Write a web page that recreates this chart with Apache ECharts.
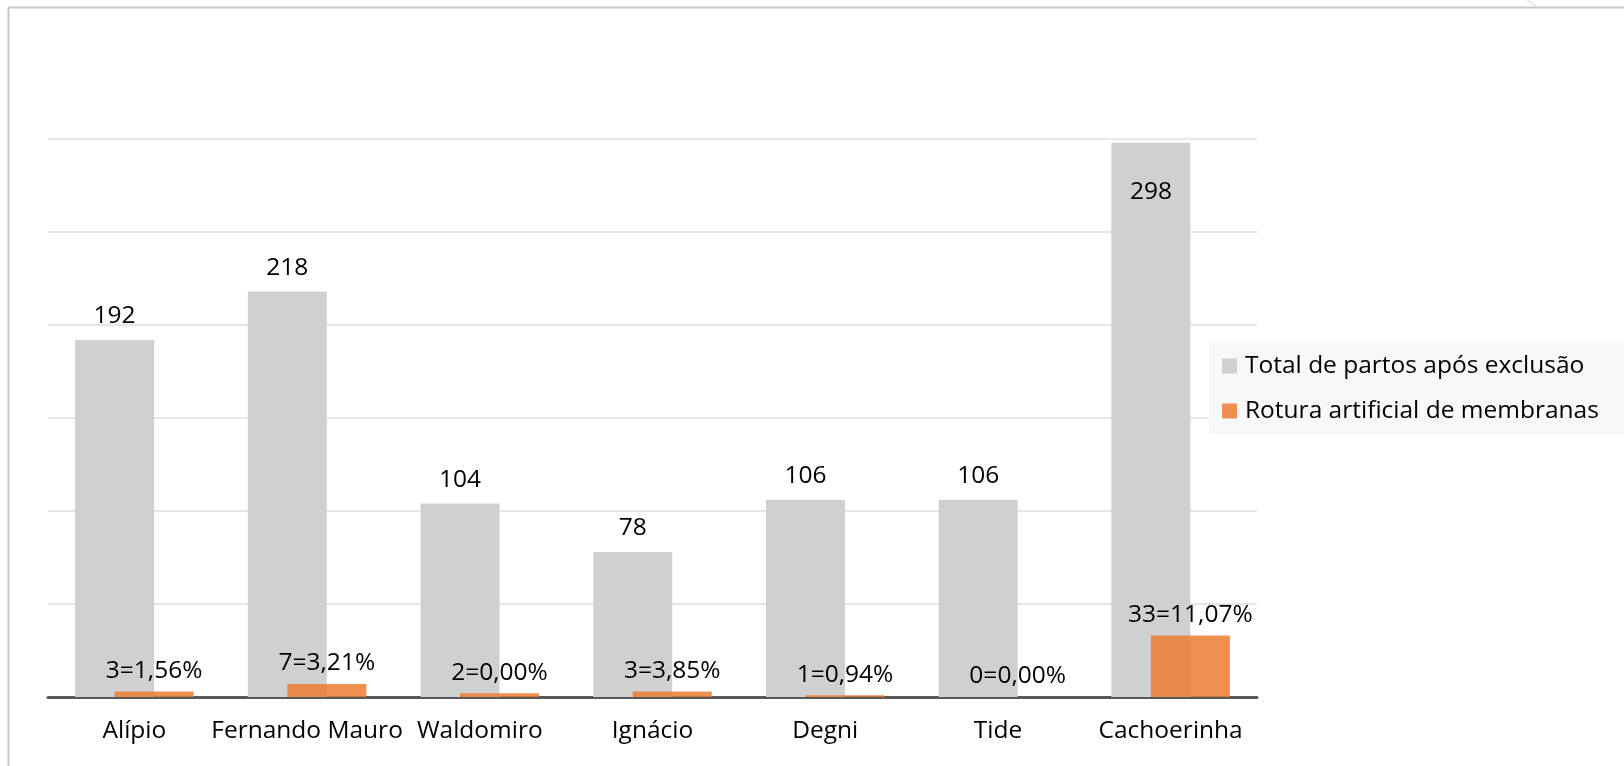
<!DOCTYPE html>
<html>
<head>
<meta charset="utf-8">
<script src="https://cdn.jsdelivr.net/npm/echarts@6/dist/echarts.min.js"></script>
<style>
html,body{margin:0;padding:0;background:#fff;}
#c{width:1624px;height:766px;}
</style>
</head>
<body>
<div id="c"></div>
<script>
const categories = ['Alípio', 'Fernando Mauro', 'Waldomiro', 'Ignácio', 'Degni', 'Tide', 'Cachoerinha'];
const totalPartos = [192, 218, 104, 78, 106, 106, 298];
const rotura = [3, 7, 2, 3, 1, 0, 33];
const roturaLabels = ['3=1,56%', '7=3,21%', '2=0,00%', '3=3,85%', '1=0,94%', '0=0,00%', '33=11,07%'];
const seriesNames = ['Total de partos após exclusão', 'Rotura artificial de membranas'];
const yTicks = [0, 50, 100, 150, 200, 250, 300];

const FONT = 'Open Sans';
const FS = 24.5;
const chart = echarts.init(document.getElementById('c'), null, {renderer: 'canvas'});

const grayData = totalPartos.map((v, i) => {
  if (i === totalPartos.length - 1) {
    return {value: v, label: {position: 'insideTop', distance: 37}};
  }
  return v;
});

chart.setOption({
  backgroundColor: '#ffffff',
  animation: false,
  textStyle: {fontFamily: FONT},
  graphic: [
    {type: 'line', shape: {x1: 8.5, y1: 7.5, x2: 8.5, y2: 766}, style: {stroke: '#c8c8c8', lineWidth: 2}, silent: true},
    {type: 'line', shape: {x1: 8, y1: 7.5, x2: 1624, y2: 7.5}, style: {stroke: '#c8c8c8', lineWidth: 2}, silent: true},
    {type: 'line', shape: {x1: 1527, y1: 0, x2: 1537, y2: 7}, style: {stroke: '#e0e0e0', lineWidth: 1.5}, silent: true}
  ],
  grid: {left: 48, right: 367, top: 139, bottom: 69, containLabel: false},
  legend: {
    orient: 'vertical',
    left: 1209,
    top: 343,
    backgroundColor: '#f8f8f8',
    padding: [8, 28, 8, 13],
    itemGap: 15,
    itemWidth: 15,
    itemHeight: 15,
    icon: 'rect',
    textStyle: {fontFamily: FONT, fontSize: FS, color: '#000', lineHeight: 30, padding: [0, 0, 0, 3]},
    data: seriesNames
  },
  xAxis: {
    type: 'category',
    data: categories,
    axisLine: {show: true, lineStyle: {color: '#595959', width: 3}},
    axisTick: {show: false},
    axisLabel: {fontFamily: FONT, fontSize: FS, color: '#000', margin: 22, interval: 0}
  },
  yAxis: {
    type: 'value',
    min: yTicks[0],
    max: yTicks[yTicks.length - 1],
    interval: yTicks[1] - yTicks[0],
    axisLine: {show: false},
    axisTick: {show: false},
    axisLabel: {show: false},
    splitLine: {show: true, lineStyle: {color: '#e6e6e6', width: 2}}
  },
  series: [
    {
      name: seriesNames[0],
      type: 'bar',
      data: grayData,
      barWidth: 79,
      barGap: '-50%',
      itemStyle: {color: '#d0d0d0'},
      label: {show: true, position: 'top', distance: 11, fontFamily: FONT, fontSize: FS, color: '#000'}
    },
    {
      name: seriesNames[1],
      type: 'bar',
      data: rotura,
      barWidth: 79,
      barGap: '-50%',
      itemStyle: {color: 'rgba(237,125,49,0.85)'},
      label: {
        show: true, position: 'top', distance: 8, fontFamily: FONT, fontSize: FS, color: '#000',
        formatter: p => roturaLabels[p.dataIndex]
      }
    }
  ]
});
</script>
</body>
</html>
